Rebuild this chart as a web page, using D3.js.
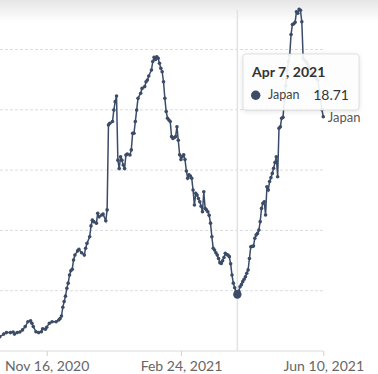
<!DOCTYPE html>
<html>
<head>
<meta charset="utf-8">
<script src="https://cdn.jsdelivr.net/npm/d3@7"></script>
<style>
  body { margin: 0; background: #fff; }
  svg { display: block; font-family: Lato, 'Open Sans', sans-serif; }
</style>
</head>
<body>
<svg id="chart"></svg>
<script>
// daily deaths (7-day avg), Japan
const dates = [
  '2020-10-12','2020-10-15','2020-10-17','2020-10-20','2020-10-22','2020-10-23','2020-10-25','2020-10-27','2020-10-29','2020-10-31',
  '2020-11-02','2020-11-04','2020-11-05','2020-11-06','2020-11-08','2020-11-10','2020-11-12','2020-11-13','2020-11-15','2020-11-16',
  '2020-11-18','2020-11-20','2020-11-23','2020-11-25','2020-11-26','2020-11-27','2020-11-28','2020-11-29','2020-11-30',
  '2020-12-01','2020-12-02','2020-12-03','2020-12-04','2020-12-05','2020-12-06','2020-12-07','2020-12-09','2020-12-10','2020-12-12',
  '2020-12-14','2020-12-15','2020-12-16','2020-12-18','2020-12-19','2020-12-20','2020-12-21','2020-12-23','2020-12-24','2020-12-25',
  '2020-12-27','2020-12-28','2020-12-30','2020-12-31',
  '2021-01-01','2021-01-02','2021-01-04','2021-01-05','2021-01-06','2021-01-07','2021-01-08','2021-01-09','2021-01-10','2021-01-11',
  '2021-01-12','2021-01-13','2021-01-14','2021-01-15','2021-01-17','2021-01-18','2021-01-19','2021-01-20','2021-01-21','2021-01-22',
  '2021-01-23','2021-01-25','2021-01-26','2021-01-28','2021-01-29','2021-01-30','2021-01-31',
  '2021-02-02','2021-02-03','2021-02-04','2021-02-05','2021-02-06','2021-02-07','2021-02-08','2021-02-09','2021-02-10','2021-02-11',
  '2021-02-12','2021-02-13','2021-02-14','2021-02-15','2021-02-16','2021-02-17','2021-02-18','2021-02-19','2021-02-20','2021-02-21',
  '2021-02-22','2021-02-23','2021-02-24','2021-02-25','2021-02-26','2021-02-27','2021-02-28',
  '2021-03-01','2021-03-02','2021-03-03','2021-03-04','2021-03-05','2021-03-06','2021-03-07','2021-03-08','2021-03-09','2021-03-10',
  '2021-03-11','2021-03-12','2021-03-13','2021-03-14','2021-03-15','2021-03-16','2021-03-17','2021-03-18','2021-03-19','2021-03-20',
  '2021-03-21','2021-03-22','2021-03-23','2021-03-24','2021-03-25','2021-03-26','2021-03-27','2021-03-28','2021-03-29','2021-03-30',
  '2021-03-31',
  '2021-04-01','2021-04-02','2021-04-03','2021-04-04','2021-04-05','2021-04-06','2021-04-07','2021-04-08','2021-04-09','2021-04-10',
  '2021-04-11','2021-04-12','2021-04-13','2021-04-14','2021-04-15','2021-04-16','2021-04-17','2021-04-18','2021-04-19','2021-04-20',
  '2021-04-21','2021-04-22','2021-04-23','2021-04-24','2021-04-25','2021-04-26','2021-04-27','2021-04-28','2021-04-29','2021-04-30',
  '2021-05-01','2021-05-02','2021-05-03','2021-05-04','2021-05-05','2021-05-06','2021-05-07','2021-05-08','2021-05-09','2021-05-10',
  '2021-05-11','2021-05-12','2021-05-13','2021-05-14','2021-05-15','2021-05-16','2021-05-17','2021-05-18','2021-05-19','2021-05-20',
  '2021-05-21','2021-05-22','2021-05-23','2021-05-24','2021-05-25','2021-05-26','2021-05-27','2021-05-28','2021-05-29','2021-05-30',
  '2021-05-31',
  '2021-06-01','2021-06-02','2021-06-03','2021-06-04','2021-06-05','2021-06-06','2021-06-07','2021-06-08','2021-06-09','2021-06-10'
];
const deaths = [
  4.7, 5.6, 6.1, 6.1, 6.3, 5.6, 6.1, 6.3, 7.0, 8.1,
  9.7, 10.0, 9.2, 8.1, 6.4, 6.1, 6.4, 7.4, 7.2, 7.9,
  9.2, 9.7, 9.7, 10.3, 10.8, 11.6, 14.5, 16.4, 18.2,
  20.8, 22.5, 25.2, 26.6, 27.1, 30.2, 31.8, 33.2, 33.7, 32.6,
  31.8, 34.1, 35.7, 37.9, 41.5, 43.4, 42.9, 42.4, 45.7, 44.5,
  45.1, 45.4, 43.2, 46.8,
  75.0, 75.5, 76.1, 79.9, 82.7, 84.6, 63.3, 60.5, 64.4, 63.3,
  61.7, 60.5, 65.0, 65.3, 65.0, 66.7, 72.2, 72.2, 76.1, 79.9,
  83.8, 85.5, 87.1, 87.7, 89.3, 89.9, 91.2,
  93.2, 96.0, 97.4, 96.7, 97.6, 97.1, 95.4, 93.8, 92.6, 89.3,
  83.8, 79.4, 77.2, 76.6, 76.1, 71.1, 70.5, 70.8, 71.1, 74.4,
  69.9, 65.1, 63.5, 64.5, 65.1, 63.5, 59.7,
  57.3, 58.4, 58.0, 57.3, 53.4, 48.4, 52.3, 51.7, 50.6, 49.5,
  48.0, 46.2, 52.8, 47.3, 46.8, 46.2, 45.0, 42.4, 37.9, 34.1,
  33.5, 32.6, 31.8, 30.7, 29.3, 29.0, 29.9, 31.0, 32.4, 32.0,
  31.8,
  31.3, 28.9, 25.2, 22.5, 21.0, 19.7, 18.71, 19.8, 21.3, 22.0,
  23.0, 23.8, 24.6, 25.8, 26.9, 30.7, 34.6, 34.7, 34.8, 37.4,
  38.5, 39.0, 40.1, 42.9, 47.3, 49.0, 49.5, 45.1, 54.5, 53.4,
  56.2, 57.5, 58.9, 60.6, 62.5, 64.4, 57.8, 73.9, 74.4, 77.2,
  77.5, 83.2, 88.0, 93.0, 96.0, 98.2, 105.0, 108.3, 108.5, 109.0,
  112.5, 112.0, 113.3, 113.0, 109.2, 97.1, 96.5, 96.0, 95.4, 94.5,
  93.5,
  92.8, 92.0, 91.5, 91.0, 90.3, 89.9, 86.0, 83.3, 80.0, 77.7
];
const xTicks = ['2020-11-16', '2021-02-24', '2021-06-10'];
const yGrid = [20, 40, 60, 80, 100];
const entity = 'Japan';
const hoverDate = '2021-04-07';

class DeathsLineChart {

    constructor(_config, _data) {
        this.config = {
            parentElement: _config.parentElement,
            containerWidth: _config.containerWidth || 378,
            containerHeight: _config.containerHeight || 374,
            color: '#3b4b68'
        }
        this.data = _data;
        this.initVis();
    }

    initVis() {
        let vis = this;
        const parse = d3.timeParse('%Y-%m-%d');

        vis.xScale = d3.scaleTime()
            .domain([parse(xTicks[0]), parse(xTicks[xTicks.length - 1])])
            .range([46.7, 323.3]);

        vis.yScale = d3.scaleLinear()
            .domain([0, 100])
            .range([351, 49.5]);

        vis.xAxis = d3.axisBottom(vis.xScale)
            .tickValues(xTicks.map(parse))
            .tickFormat(d3.timeFormat('%b %-d, %Y'))
            .tickSize(5)
            .tickPadding(5);

        vis.svg = d3.select(vis.config.parentElement)
            .attr('width', vis.config.containerWidth)
            .attr('height', vis.config.containerHeight);

        // faint shade at the very top
        const grad = vis.svg.append('defs').append('linearGradient')
            .attr('id', 'topShade')
            .attr('x1', 0).attr('x2', 0).attr('y1', 0).attr('y2', 1);
        grad.append('stop').attr('offset', '0%').attr('stop-color', '#e6e6e6');
        grad.append('stop').attr('offset', '100%').attr('stop-color', '#fff');
        vis.svg.append('rect')
            .attr('width', vis.config.containerWidth)
            .attr('height', 22)
            .attr('fill', 'url(#topShade)');

        vis.chart = vis.svg.append('g');
        vis.updateVis();
    }

    updateVis() {
        let vis = this;
        const parse = d3.timeParse('%Y-%m-%d');
        vis.points = vis.data.dates.map((d, i) => ({date: parse(d), value: vis.data.values[i]}));
        vis.hover = vis.points.find(d => d3.timeFormat('%Y-%m-%d')(d.date) === hoverDate);
        vis.renderVis();
    }

    renderVis() {
        let vis = this;
        const right = vis.xScale.range()[1];
        const top = vis.yScale(d3.max(vis.points, d => d.value));

        vis.chart.selectAll('.grid')
            .data(yGrid)
            .join('line')
            .attr('class', 'grid')
            .attr('x1', 0)
            .attr('x2', right)
            .attr('y1', d => vis.yScale(d))
            .attr('y2', d => vis.yScale(d))
            .attr('stroke', '#dcdcdc')
            .attr('stroke-dasharray', '3,2');

        // x axis
        vis.xAxisG = vis.chart.append('g')
            .attr('transform', `translate(0,${vis.yScale(0)})`)
            .call(vis.xAxis);
        vis.xAxisG.select('.domain').remove();
        vis.xAxisG.append('line')
            .attr('x1', 0).attr('x2', right)
            .attr('stroke', '#dadada');
        vis.xAxisG.selectAll('.tick line').attr('stroke', '#d0d0d0');
        vis.xAxisG.selectAll('.tick text')
            .attr('fill', '#666')
            .style('font-family', 'Lato, sans-serif')
            .style('font-size', '14px');

        // hover rule
        vis.chart.append('line')
            .attr('x1', vis.xScale(vis.hover.date))
            .attr('x2', vis.xScale(vis.hover.date))
            .attr('y1', top)
            .attr('y2', vis.yScale(0))
            .attr('stroke', '#e2e2e2')
            .attr('stroke-width', 1.5);

        vis.chart.append('path')
            .datum(vis.points)
            .attr('fill', 'none')
            .attr('stroke', vis.config.color)
            .attr('stroke-width', 1.5)
            .attr('d', d3.line()
                .x(d => vis.xScale(d.date))
                .y(d => vis.yScale(d.value)));

        vis.chart.selectAll('.dot')
            .data(vis.points)
            .join('circle')
            .attr('class', 'dot')
            .attr('r', 1.8)
            .attr('cx', d => vis.xScale(d.date))
            .attr('cy', d => vis.yScale(d.value))
            .attr('fill', vis.config.color);

        vis.chart.append('circle')
            .attr('r', 4.2)
            .attr('cx', vis.xScale(vis.hover.date))
            .attr('cy', vis.yScale(vis.hover.value))
            .attr('fill', vis.config.color);

        // end label
        const last = vis.points[vis.points.length - 1];
        vis.chart.append('text')
            .attr('x', vis.xScale(last.date) + 4.5)
            .attr('y', vis.yScale(last.value) + 5)
            .attr('fill', '#555')
            .style('font-size', '13px')
            .text(entity);

        // tooltip
        const tip = vis.chart.append('g')
            .attr('transform', 'translate(243,54)');
        tip.append('rect')
            .attr('width', 116)
            .attr('height', 56)
            .attr('rx', 3)
            .attr('fill', 'rgba(255,255,255,0.9)')
            .attr('stroke', '#e0e0e0')
            .style('filter', 'drop-shadow(0 1px 2px rgba(0,0,0,0.12))');
        tip.append('text')
            .attr('x', 9)
            .attr('y', 23)
            .attr('fill', '#333')
            .style('font-size', '14px')
            .style('font-weight', 700)
            .text(d3.timeFormat('%b %-d, %Y')(vis.hover.date));
        tip.append('circle')
            .attr('cx', 12.7)
            .attr('cy', 41.3)
            .attr('r', 4.7)
            .attr('fill', vis.config.color);
        tip.append('text')
            .attr('x', 25)
            .attr('y', 45)
            .attr('fill', '#444')
            .style('font-size', '12.5px')
            .text(entity);
        tip.append('text')
            .attr('x', 106)
            .attr('y', 45.5)
            .attr('text-anchor', 'end')
            .attr('fill', '#333')
            .style('font-size', '14px')
            .text(vis.hover.value.toFixed(2));
    }
}

new DeathsLineChart({parentElement: '#chart'}, {dates: dates, values: deaths});
</script>
</body>
</html>
